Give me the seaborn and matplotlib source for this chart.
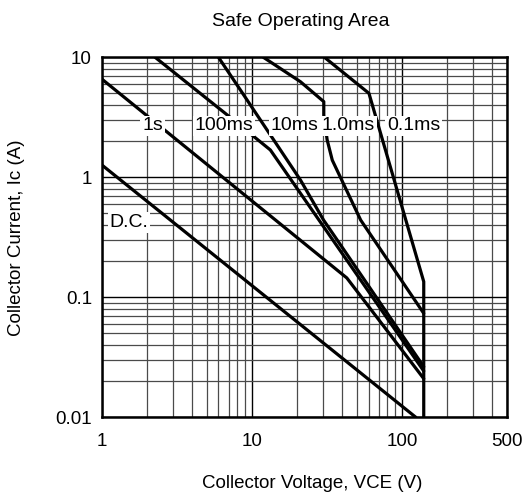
import numpy as np
import pandas as pd
import matplotlib
matplotlib.use("Agg")
import matplotlib.pyplot as plt
import seaborn as sns

# ---- data ----
dc_v = [1.0, 124.0]
dc_i = [1.27, 0.01]

s1_v = [1.0, 43.0, 140.0]
s1_i = [6.6, 0.145, 0.021]

ms100_v = [2.27, 6.66, 13.3, 140.0]
ms100_i = [10.0, 3.41, 1.69, 0.0243]

ms10_v = [6.0, 8.4, 21.1, 30.1, 140.0]
ms10_i = [10.0, 5.34, 0.95, 0.44, 0.0264]

ms1_v = [11.95, 21.1, 30.2, 30.2, 31.8, 34.4, 53.2, 140.0]
ms1_i = [10.0, 6.26, 4.27, 3.3, 2.05, 1.39, 0.44, 0.0735]

ms01_v = [30.5, 60.4, 140.0, 140.0]
ms01_i = [10.0, 5.01, 0.135, 0.01]

curve_names = ["D.C.", "1s", "100ms", "10ms", "1.0ms", "0.1ms"]
label_v = [1.52, 2.18, 6.56, 19.3, 44.2, 120.0]
label_i = [0.42, 2.68, 2.68, 2.68, 2.68, 2.68]

x_ticks = [1, 10, 100, 500]
x_ticklabels = ["1", "10", "100", "500"]
y_ticks = [0.01, 0.1, 1, 10]
y_ticklabels = ["0.01", "0.1", "1", "10"]

frames = []
for name, vs, is_ in zip(curve_names,
                         [dc_v, s1_v, ms100_v, ms10_v, ms1_v, ms01_v],
                         [dc_i, s1_i, ms100_i, ms10_i, ms1_i, ms01_i]):
    frames.append(pd.DataFrame({"V": vs, "I": is_, "curve": name}))
df = pd.concat(frames, ignore_index=True)

sns.set_style("white")
plt.rcParams["font.family"] = ["Liberation Sans", "DejaVu Sans"]
plt.rcParams["text.color"] = "black"
plt.rcParams["axes.labelcolor"] = "black"

fig = plt.figure(figsize=(5.28, 4.95), dpi=100)
ax = fig.add_axes([101.7 / 528, 1 - 417.3 / 495, 405 / 528, 360 / 495])

ax.set_xscale("log")
ax.set_yscale("log")
ax.set_xlim(1, 500)
ax.set_ylim(0.01, 10)

sns.lineplot(data=df, x="V", y="I", units="curve", estimator=None, sort=False,
             color="black", linewidth=2.3, ax=ax, legend=False, zorder=3)

ax.set_xticks(x_ticks)
ax.set_xticklabels(x_ticklabels)
ax.set_yticks(y_ticks)
ax.set_yticklabels(y_ticklabels)
ax.xaxis.set_minor_locator(matplotlib.ticker.LogLocator(base=10, subs=np.arange(2, 10)))
ax.yaxis.set_minor_locator(matplotlib.ticker.LogLocator(base=10, subs=np.arange(2, 10)))
ax.xaxis.set_minor_formatter(matplotlib.ticker.NullFormatter())
ax.yaxis.set_minor_formatter(matplotlib.ticker.NullFormatter())

ax.grid(which="major", color="black", linewidth=1.0, zorder=1)
ax.grid(which="minor", color="#4a4a4a", linewidth=0.9, zorder=1)
ax.tick_params(which="both", length=0, labelsize=13.5, colors="black")
ax.tick_params(axis="x", pad=11)
ax.tick_params(axis="y", pad=7)
for sp in ax.spines.values():
    sp.set_visible(True)
    sp.set_color("black")
    sp.set_linewidth(1.8)
    sp.set_zorder(4)

for name, lv, li in zip(curve_names, label_v, label_i):
    ax.text(lv, li, name, ha="center", va="center", fontsize=14, color="black",
            zorder=5, bbox=dict(facecolor="white", edgecolor="none", pad=1.2))

ax.set_xlabel("Collector Voltage, VCE (V)", fontsize=13.5, color="black")
ax.set_ylabel("Collector Current, Ic (A)", fontsize=13.5, color="black")
ax.xaxis.set_label_coords(0.52, -0.16)
ax.yaxis.set_label_coords(-0.19, 0.5)

fig.text(301 / 528, 1 - 22 / 495, "Safe Operating Area", ha="center", va="center",
         fontsize=14, color="black")

fig.savefig("out.png", dpi=100)
